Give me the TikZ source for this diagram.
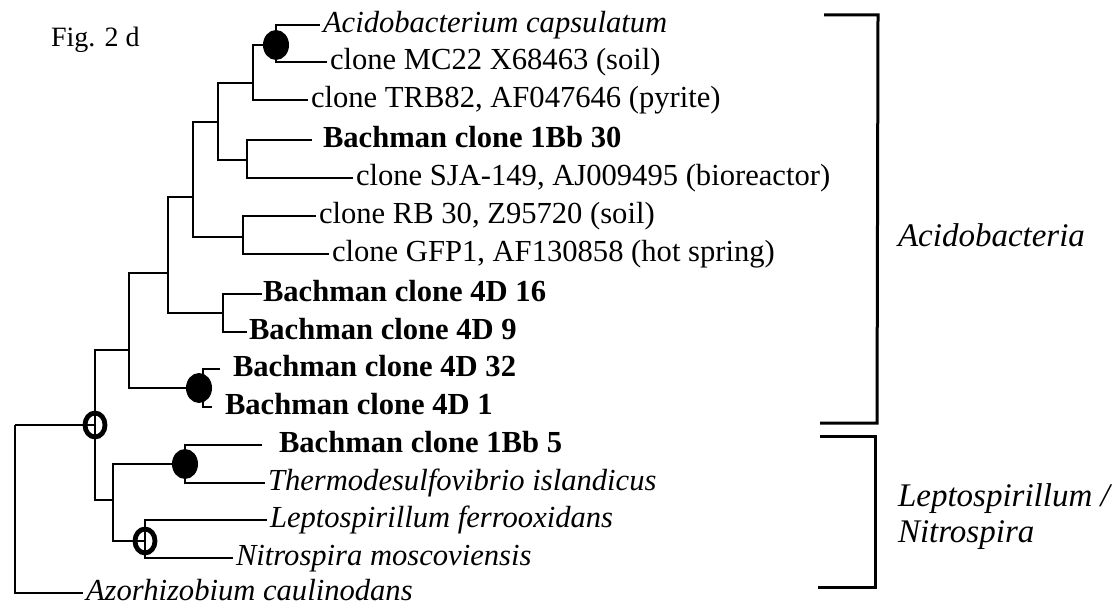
\documentclass[tikz,border=0pt]{standalone}
\usepackage{fontspec}
\setmainfont{Liberation Serif}
\usepackage{tikz}
\usetikzlibrary{shapes.geometric}

\begin{document}
\fontsize{15.3}{18}\selectfont
\begin{tikzpicture}[
  x=0.5pt, y=-0.5pt, line width=1pt,
  leaf/.style={anchor=mid west, inner xsep=1pt, inner ysep=0pt,
    font=\fontsize{15.3}{18}\selectfont},
  boldleaf/.style={leaf, font=\fontsize{15.3}{18}\selectfont\bfseries},
  taxon/.style={leaf, font=\fontsize{15.3}{18}\selectfont\itshape},
  dot/.style={ellipse, fill=black, minimum width=13pt, minimum height=15pt, inner sep=0pt},
  ring/.style={ellipse, draw=black, line width=2.4pt, minimum width=10pt,
    minimum height=12pt, inner sep=0pt},
  clade/.style={font=\fontsize{16.5}{18}\selectfont\itshape, align=left, inner sep=0pt},
  bracket/.style={line width=1.5pt}
]
\useasboundingbox (0,0) rectangle (1112,614);

\node[anchor=base west, inner sep=0pt, font=\fontsize{14}{17}\selectfont] (fig) at (50,47) {Fig. 2 d};

\coordinate (n1) at (276,45);
\coordinate (n2) at (253,83);
\coordinate (n3) at (247,160);
\coordinate (n4) at (218,122);
\coordinate (n5) at (243,237);
\coordinate (n6) at (193,197);
\coordinate (n7) at (223,313);
\coordinate (n8) at (168,273);
\coordinate (n9) at (203,388);
\coordinate (n10) at (129,350);
\coordinate (n11) at (185,464);
\coordinate (n12) at (145,541);
\coordinate (n13) at (113,500);
\coordinate (n14) at (95,425);
\coordinate (root) at (15,425);

\node[taxon] (acido) at (320,25) {Acidobacterium capsulatum};
\node[leaf] (mc22) at (327,62) {clone MC22 X68463 (soil)};
\node[leaf] (trb82) at (308,100) {clone TRB82, AF047646 (pyrite)};
\node[boldleaf, inner xsep=5pt] (bb30) at (312,140) {Bachman clone 1Bb 30};
\node[leaf] (sja) at (353,178) {clone SJA-149, AJ009495 (bioreactor)};
\node[leaf] (rb30) at (316,216) {clone RB 30, Z95720 (soil)};
\node[leaf] (gfp1) at (329,254) {clone GFP1, AF130858 (hot spring)};
\node[boldleaf, inner xsep=0pt] (d16) at (262,294) {Bachman clone 4D 16};
\node[boldleaf, inner xsep=0.5pt] (d9) at (247,332) {Bachman clone 4D 9};
\node[boldleaf, inner xsep=6pt] (d32) at (220,369) {Bachman clone 4D 32};
\node[boldleaf, inner xsep=6pt] (d1) at (212,407) {Bachman clone 4D 1};
\node[boldleaf, inner xsep=8pt] (bb5) at (262,445) {Bachman clone 1Bb 5};
\node[taxon] (thermo) at (265,483) {Thermodesulfovibrio islandicus};
\node[taxon] (lepto) at (267,520) {Leptospirillum ferrooxidans};
\node[taxon] (nitro) at (233,558) {Nitrospira moscoviensis};
\node[taxon] (azo) at (83,593) {Azorhizobium caulinodans};

\draw (n1) |- (acido.mid west);
\draw (n1) |- (mc22.mid west);
\draw (n2) |- (n1);
\draw (n2) |- (trb82.mid west);
\draw (n3) |- (bb30.mid west);
\draw (n3) |- (sja.mid west);
\draw (n4) |- (n2);
\draw (n4) |- (n3);
\draw (n5) |- (rb30.mid west);
\draw (n5) |- (gfp1.mid west);
\draw (n6) |- (n4);
\draw (n6) |- (n5);
\draw (n7) |- (d16.mid west);
\draw (n7) |- (d9.mid west);
\draw (n8) |- (n6);
\draw (n8) |- (n7);
\draw (n9) |- (d32.mid west);
\draw (n9) |- (d1.mid west);
\draw (n10) |- (n8);
\draw (n10) |- (n9);
\draw (n11) |- (bb5.mid west);
\draw (n11) |- (thermo.mid west);
\draw (n12) |- (lepto.mid west);
\draw (n12) |- (nitro.mid west);
\draw (n13) |- (n11);
\draw (n13) |- (n12);
\draw (n14) |- (n10);
\draw (n14) |- (n13);
\draw (root) |- (n14);
\draw (root) |- (azo.mid west);

\node[dot] (b1) at (n1) {};
\node[dot] (b9) at ([xshift=-2pt]n9) {};
\node[dot] (b11) at (n11) {};
\node[ring] (r12) at (n12) {};
\node[ring] (r14) at (n14) {};

\draw[bracket] (824,15) -- (878,15) -- (877,423) -- (820,423);
\draw[bracket] (820,436) -- (875,436) -- (875,587) -- (818,587);

\node[clade, anchor=base west] (acidob) at (897,247) {Acidobacteria};
\node[clade, anchor=west] (lepnit) at (897,517) {Leptospirillum /\\Nitrospira};
\end{tikzpicture}
\end{document}
